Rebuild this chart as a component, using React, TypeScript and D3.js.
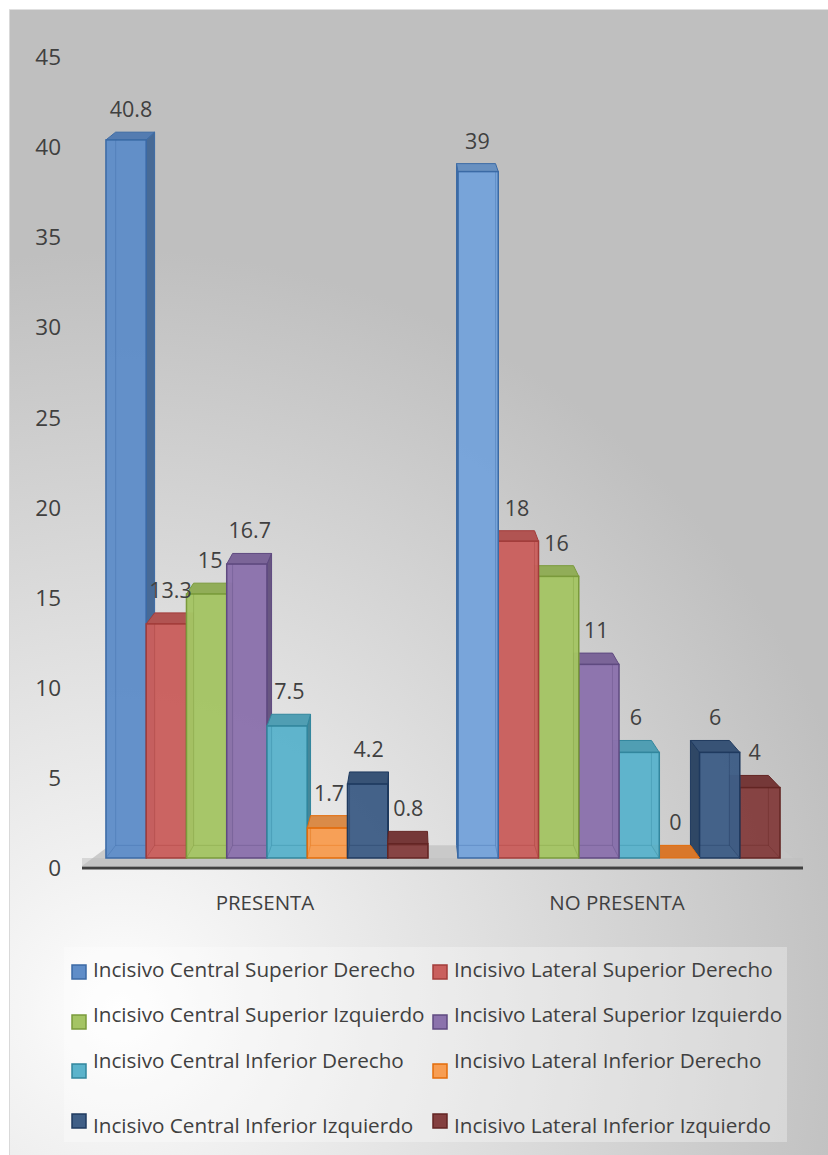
import React from "react";
import * as d3 from "d3";

const categories = ["PRESENTA", "NO PRESENTA"];
const seriesNames = [
  "Incisivo Central Superior Derecho",
  "Incisivo Lateral Superior Derecho",
  "Incisivo Central Superior Izquierdo",
  "Incisivo Lateral Superior Izquierdo",
  "Incisivo Central Inferior Derecho",
  "Incisivo Lateral Inferior Derecho",
  "Incisivo Central Inferior Izquierdo",
  "Incisivo Lateral Inferior Izquierdo",
];
const presentaValues = [40.8, 13.3, 15, 16.7, 7.5, 1.7, 4.2, 0.8];
const noPresentaValues = [39, 18, 16, 11, 6, 0, 6, 4];
const yTicks = [0, 5, 10, 15, 20, 25, 30, 35, 40, 45];
const seriesColors = ["#5f8dc8", "#c95f5d", "#a4c464", "#8b72ac", "#5bb3cb", "#f79d52", "#3f5e86", "#843f3f"];
const seriesStrokes = ["#3b6aa5", "#a23c3a", "#7a9a3b", "#5f4a80", "#32869d", "#e46c0a", "#1f3a5f", "#632523"];

const W = 828;
const H = 1155;
const FONT = "'Open Sans', 'Noto Sans', sans-serif";
const TXT = "#404040";

// perspective parameters
const VX = 412, CX = 0.0316, VY = -1000, CY = 0.0068;
const back = (x: number, y: number): [number, number] => [x + (VX - x) * CX, y + (VY - y) * CY];
const pts = (p: [number, number][]) => p.map((q) => q.join(",")).join(" ");

export default function App() {
  const values = [presentaValues, noPresentaValues];
  const x0 = d3.scaleBand<string>().domain(categories).range([88, 798]).paddingInner(0.0852).paddingOuter(0.051);
  const xs = d3.scaleBand<number>().domain(d3.range(seriesNames.length)).range([0, x0.bandwidth()]).padding(0);
  const yBar = d3.scaleLinear().domain([0, 45]).range([858, 858 - 17.6 * 45]);
  const yAxis = d3.scaleLinear().domain([0, 45]).range([868, 57]);

  const bars: any[] = [];
  categories.forEach((c, ci) => {
    values[ci].forEach((v, si) => {
      const xa = (x0(c) as number) + (xs(si) as number);
      const xb = xa + xs.bandwidth();
      const yt = yBar(v);
      const yb = yBar(0);
      bars.push({ c, ci, si, v, xa, xb, yt, yb, dist: Math.abs((xa + xb) / 2 - VX) });
    });
  });
  bars.sort((a, b) => b.dist - a.dist);

  const floorY = yBar(0);
  const floorFrontY = floorY + 8;
  const fl: [number, number] = [82, floorFrontY];
  const fr: [number, number] = [803, floorFrontY];
  const bl = back(100, floorY);
  const br = back(790, floorY);

  return (
    <svg width={W} height={H} style={{ position: "absolute", left: 0, top: 0, background: "#fff" }} fontFamily={FONT}>
      <defs>
        <radialGradient id="bg" gradientUnits="userSpaceOnUse" cx={120} cy={1010} r={760}>
          <stop offset="0" stopColor="#ffffff" />
          <stop offset="0.12" stopColor="#f6f6f6" />
          <stop offset="1" stopColor="#bfbfbf" />
        </radialGradient>
      </defs>
      <rect x={9} y={9} width={W - 9} height={H - 9} fill="url(#bg)" />
      <line x1={9.5} x2={9.5} y1={9} y2={H} stroke="#d9d9d9" />
      <line x1={9} x2={W} y1={9.5} y2={9.5} stroke="#e0e0e0" />

      {/* y labels */}
      {yTicks.map((t) => (
        <text key={t} x={61} y={yAxis(t)} dy="0.36em" textAnchor="end" fontSize={22.5} fill={TXT}>
          {t}
        </text>
      ))}

      {/* floor */}
      <polygon points={pts([fl, fr, br, bl])} fill="#c6c6c6" opacity={0.9} />
      <polygon points={pts([[fl[0], floorY + 0.0], [fr[0], floorY], fr, fl])} fill="#bdbdbd" opacity={0.5} />
      <line x1={82} x2={803} y1={yAxis(0)} y2={yAxis(0)} stroke="#404040" strokeWidth={3} />

      {/* bars */}
      {bars.map((b, i) => {
        const col = b.ci === 1 && b.si === 0 ? "#76a3da" : seriesColors[b.si];
        const stk = seriesStrokes[b.si];
        const ftl: [number, number] = [b.xa, b.yt];
        const ftr: [number, number] = [b.xb, b.yt];
        const fbr: [number, number] = [b.xb, b.yb];
        const fbl: [number, number] = [b.xa, b.yb];
        const btl = back(b.xa, b.yt);
        const btr = back(b.xb, b.yt);
        const bbr = back(b.xb, b.yb);
        const bbl = back(b.xa, b.yb);
        const rightSide = btr[0] > b.xb;
        const side = rightSide ? [ftr, fbr, bbr, btr] : [ftl, fbl, bbl, btl];
        const topC = d3.color(col)!.darker(0.35).toString();
        const sideC = d3.color(col)!.darker(0.8).toString();
        const zero = b.v === 0;
        return (
          <g key={i}>
            <polygon points={pts(side as any)} fill={sideC} stroke={stk} strokeWidth={1} strokeLinejoin="round" />
            <polygon points={pts([ftl, ftr, btr, btl])} fill={zero ? "#d9772a" : topC} stroke={stk} strokeWidth={1} strokeLinejoin="round" />
            {!zero && (
              <>
                <rect x={b.xa} y={b.yt} width={b.xb - b.xa} height={b.yb - b.yt} fill={col} fillOpacity={0.97} stroke={stk} strokeWidth={1.5} />
                <polyline
                  points={pts([
                    [Math.max(btl[0], b.xa), Math.max(btl[1], b.yt)],
                    [Math.max(bbl[0], b.xa), bbl[1]],
                    [Math.min(bbr[0], b.xb), bbr[1]],
                    [Math.min(btr[0], b.xb), Math.max(btr[1], b.yt)],
                  ])}
                  fill="none"
                  stroke={stk}
                  strokeOpacity={0.35}
                  strokeWidth={1}
                />
                <line x1={rightSide ? fbl[0] : fbr[0]} y1={b.yb} x2={rightSide ? bbl[0] : bbr[0]} y2={bbl[1]} stroke={stk} strokeOpacity={0.35} />
              </>
            )}
          </g>
        );
      })}

      {/* data labels */}
      {bars.map((b, i) => {
        const bt = back(b.xa, b.yt);
        const cx = (b.xa + b.xb) / 2 + (bt[0] - b.xa) / 2;
        return (
          <text key={"l" + i} x={cx} y={bt[1] - 15} textAnchor="middle" fontSize={21.5} fill={TXT}>
            {String(b.v)}
          </text>
        );
      })}

      {/* category labels */}
      {categories.map((c) => (
        <text key={c} x={(x0(c) as number) + x0.bandwidth() / 2 - 2} y={910} textAnchor="middle" fontSize={20.5} fill={TXT}>
          {c}
        </text>
      ))}

      {/* legend */}
      <rect x={64} y={947} width={723} height={195} fill="#ffffff" fillOpacity={0.3} />
      {seriesNames.map((n, i) => {
        const col = i % 2;
        const row = Math.floor(i / 2);
        const mx = [72, 433][col];
        const tx = [93, 454][col];
        const my = [965, 1015, 1064, 1114][row];
        const ty = [977, 1022, 1068, 1133][row];
        return (
          <g key={n}>
            <rect x={mx} y={my} width={14} height={14} fill={seriesColors[i]} stroke={seriesStrokes[i]} strokeWidth={1.5} />
            <text x={tx} y={ty} fontSize={20.7} fill={TXT}>
              {n}
            </text>
          </g>
        );
      })}
    </svg>
  );
}
